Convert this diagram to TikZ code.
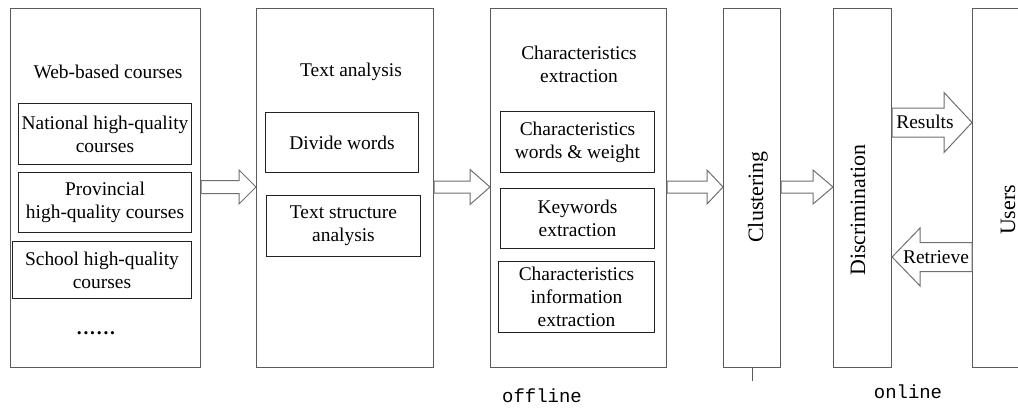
\documentclass[tikz,border=0pt]{standalone}
\usepackage{fontspec}
\setmainfont{Liberation Serif}
\setmonofont{Liberation Mono}
\usetikzlibrary{calc}

\definecolor{framegray}{HTML}{5A5A5A}
\definecolor{arrowgray}{HTML}{707070}
\definecolor{subline}{HTML}{222222}

% block arrow pointing right: tail node, tip node, centre y, shaft half width, head half width, head length
\newcommand\fatright[6]{%
  \draw[fat] ($(#1.east|-0,#3)+(0,-#4)$) -- ($(#2.west|-0,#3)+(-#6,-#4)$)
    -- ++(0,{#4-#5}) -- (#2.west|-0,#3) -- ++(-#6,#5) -- ++(0,{#4-#5})
    -- ($(#1.east|-0,#3)+(0,#4)$) -- cycle;}
% block arrow pointing left: tail node, tip node, centre y, shaft half width, head half width, head length
\newcommand\fatleft[6]{%
  \draw[fat] ($(#1.west|-0,#3)+(0,-#4)$) -- ($(#2.east|-0,#3)+(#6,-#4)$)
    -- ++(0,{#4-#5}) -- (#2.east|-0,#3) -- ++(#6,#5) -- ++(0,{#4-#5})
    -- ($(#1.west|-0,#3)+(0,#4)$) -- cycle;}

\tikzset{
  stage/.style={draw=framegray, line width=1.1bp, anchor=north west, inner sep=0pt,
                minimum height=359bp},
  subbox/.style={draw=subline, line width=1bp, anchor=north west, inner sep=0pt,
                 align=center, font=\fontsize{19.5}{23}\selectfont},
  txt/.style={inner sep=0pt, align=center, font=\fontsize{19.5}{23}\selectfont},
  vtxt/.style={inner sep=0pt, rotate=90, font=\fontsize{22}{26}\selectfont},
  mono/.style={inner sep=0pt, font=\ttfamily\fontsize{19}{22}\selectfont},
  fat/.style={draw=arrowgray, line width=1bp, fill=white, line join=miter},
}

\begin{document}
\begin{tikzpicture}[x=1bp,y=-1bp]
  \useasboundingbox (0,0) rectangle (1018,410);
  \fill[white] (0,0) rectangle (1018,410);
  \clip (0,0) rectangle (1018,410);

  % processing stages
  \node[stage, minimum width=190bp] (b1) at (10,7.5) {};
  \node[stage, minimum width=177bp] (b2) at (256,7.5) {};
  \node[stage, minimum width=176bp] (b3) at (490,7.5) {};
  \node[stage, minimum width=57bp]  (b4) at (723,7.5) {};
  \node[stage, minimum width=58bp]  (b5) at (833,7.5) {};
  \node[stage, minimum width=72bp]  (b6) at (972,7.5) {};

  % course sources
  \node[txt] (t1) at (108,72) {Web-based courses};
  \node[subbox, minimum width=173bp, minimum height=61bp] (s11) at (18,103)
    {National high-quality\\courses};
  \node[subbox, minimum width=173bp, minimum height=60bp] (s12) at (18,172)
    {Provincial\\high-quality courses};
  \node[subbox, minimum width=179bp, minimum height=57bp] (s13) at (12,241)
    {School high-quality\\courses};
  \node[txt] (dots) at (96,333)
    {\bfseries .\kern1.8bp.\kern1.8bp.\kern1.8bp.\kern1.8bp.\kern1.8bp.};

  % text analysis
  \node[txt] (t2) at (351,72) {Text analysis};
  \node[subbox, minimum width=153bp, minimum height=60bp] (s21) at (265,112)
    {Divide words};
  \node[subbox, minimum width=154bp, minimum height=61bp] (s22) at (266,195)
    {Text structure\\analysis};

  % characteristics extraction
  \node[txt] (t3) at (579,64) {Characteristics\\extraction};
  \node[subbox, minimum width=154bp, minimum height=61bp] (s31) at (500,111)
    {Characteristics\\words \& weight};
  \node[subbox, minimum width=154bp, minimum height=60bp] (s32) at (500,188)
    {Keywords\\extraction};
  \node[subbox, minimum width=156bp, minimum height=71bp] (s33) at (498,261)
    {Characteristics\\information\\extraction};

  % vertical stage labels
  \node[vtxt] (t4) at (758,197) {Clustering};
  \node[vtxt] (t5) at (858,210) {Discrimination};
  \node[vtxt] (t6) at (1008,210) {Users};

  % flow between stages
  \fatright{b1}{b2}{187}{6.5}{17}{17}
  \fatright{b2}{b3}{187}{6}{17.5}{20}
  \fatright{b3}{b4}{187}{6}{17}{16}
  \fatright{b4}{b5}{187}{6}{17}{20}
  \fatright{b5}{b6}{122.5}{14.5}{30}{28}
  \fatleft{b6}{b5}{257}{14.5}{29}{28}
  \node[txt] (res) at (925,122) {Results};
  \node[txt] (ret) at (936,257) {Retrieve};

  % offline / online split
  \coordinate (tickend) at ($(b4.south)+(0,13)$);
  \draw[framegray, line width=1.1bp] (b4.south) -- (tickend);
  \node[mono] (off) at (542,396) {offline};
  \node[mono] (on) at (908,392) {online};
\end{tikzpicture}
\end{document}
